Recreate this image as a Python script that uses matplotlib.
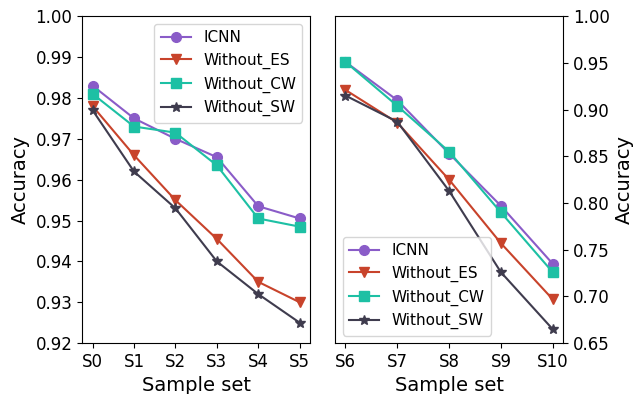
import matplotlib
matplotlib.use('Agg')
import matplotlib.pyplot as plt

sets_left = ['S0', 'S1', 'S2', 'S3', 'S4', 'S5']
sets_right = ['S6', 'S7', 'S8', 'S9', 'S10']

icnn_left = [0.983, 0.975, 0.970, 0.9655, 0.9535, 0.9505]
es_left = [0.978, 0.966, 0.955, 0.9455, 0.935, 0.930]
cw_left = [0.981, 0.973, 0.9715, 0.9635, 0.9505, 0.9485]
sw_left = [0.977, 0.962, 0.953, 0.940, 0.932, 0.925]

icnn_right = [0.951, 0.910, 0.853, 0.797, 0.735]
es_right = [0.921, 0.886, 0.825, 0.757, 0.697]
cw_right = [0.951, 0.904, 0.855, 0.790, 0.726]
sw_right = [0.915, 0.887, 0.813, 0.726, 0.665]

labels = ['ICNN', 'Without_ES', 'Without_CW', 'Without_SW']
colors = ['#8a5cc8', '#c8432b', '#1dc0a4', '#3f3c4e']
markers = ['o', 'v', 's', '*']
msizes = [7, 7, 7, 7.5]

fig, (ax1, ax2) = plt.subplots(1, 2, figsize=(6.42, 3.94), dpi=100)
plt.subplots_adjust(left=0.128, right=0.877, top=0.959, bottom=0.129, wspace=0.11)

for series, lab, c, m, ms in zip([icnn_left, es_left, cw_left, sw_left], labels, colors, markers, msizes):
    ax1.plot(sets_left, series, label=lab, color=c, marker=m, markersize=ms, linewidth=1.5)
for series, lab, c, m, ms in zip([icnn_right, es_right, cw_right, sw_right], labels, colors, markers, msizes):
    ax2.plot(sets_right, series, label=lab, color=c, marker=m, markersize=ms, linewidth=1.5)

ax1.set_ylim(0.92, 1.00)
ax1.set_yticks([0.92, 0.93, 0.94, 0.95, 0.96, 0.97, 0.98, 0.99, 1.00])
ax1.set_ylabel('Accuracy', fontsize=14)
ax1.set_xlabel('Sample set', fontsize=14)
ax1.legend(loc='upper right', fontsize=11)

ax2.set_ylim(0.65, 1.00)
ax2.set_yticks([0.65, 0.70, 0.75, 0.80, 0.85, 0.90, 0.95, 1.00])
ax2.yaxis.tick_right()
ax2.yaxis.set_label_position('right')
ax2.set_ylabel('Accuracy', fontsize=14)
ax2.set_xlabel('Sample set', fontsize=14)
ax2.legend(loc='lower left', fontsize=11)

for ax in (ax1, ax2):
    ax.tick_params(labelsize=12)

plt.savefig('out.png', dpi=100)
